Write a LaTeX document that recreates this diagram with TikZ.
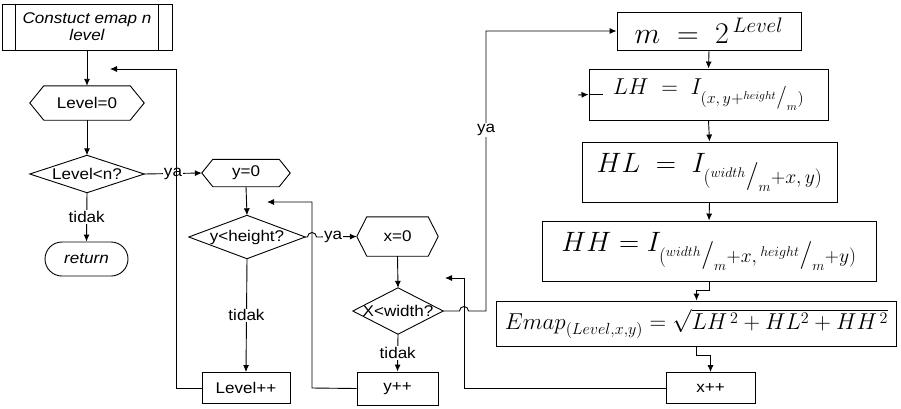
\RequirePackage{fix-cm}
\documentclass[tikz,border=0pt]{standalone}
\usepackage{fontspec}
\usetikzlibrary{arrows.meta,calc}
\newfontfamily\arial[FakeStretch=1.1]{Liberation Sans}
\newcommand{\sfr}[2]{{}^{#1}\big/_{#2}}
\newcommand{\hexa}[2]{\draw[ln] ([xshift=#2pt]#1.north west) -- ([xshift=-#2pt]#1.north east) -- (#1.east) -- ([xshift=-#2pt]#1.south east) -- ([xshift=#2pt]#1.south west) -- (#1.west) -- cycle;}
\newcommand{\diam}[1]{\draw[ln] (#1.north) -- (#1.east) -- (#1.south) -- (#1.west) -- cycle;}
\begin{document}
\begin{tikzpicture}[x=1pt,y=-1pt,
  every node/.style={font=\arial\fontsize{15.5}{17}\selectfont},
  ln/.style={line width=0.9pt},
  arr/.style={ln,-{Latex[length=7pt,width=6pt]}},
  shp/.style={rectangle,inner sep=0pt,align=center},
  boxs/.style={shp,draw,ln},
  lab/.style={fill=white,inner sep=1pt}]
\useasboundingbox (0,0) rectangle (901,408);
% left column
\node[boxs,minimum width=170pt,minimum height=46pt,font=\arial\itshape\fontsize{15.5}{17}\selectfont] (start) at (87,27) {Constuct emap n\\level};
\draw[ln] ([xshift=14pt]start.north west) -- ([xshift=14pt]start.south west);
\draw[ln] ([xshift=-14pt]start.north east) -- ([xshift=-14pt]start.south east);
\node[shp,minimum width=114pt,minimum height=34pt] (lvl0) at (87,103) {Level=0};
\hexa{lvl0}{14}
\node[shp,minimum width=114pt,minimum height=37pt] (lvln) at (87,174) {Level<n?};
\diam{lvln}
\node[boxs,rounded corners=17pt,minimum width=83pt,minimum height=34pt,font=\arial\itshape\fontsize{15.5}{17}\selectfont] (ret) at (86.5,259) {return};
% second column
\node[shp,minimum width=88pt,minimum height=27pt] (y0) at (246,173) {y=0};
\hexa{y0}{11}
\node[shp,minimum width=116pt,minimum height=43pt] (yh) at (247,237) {y<height?};
\diam{yh}
\node[boxs,minimum width=88pt,minimum height=31pt] (lvlpp) at (246,388) {Level++};
% third column
\node[shp,minimum width=81pt,minimum height=39pt] (x0) at (397.5,236.5) {x=0};
\hexa{x0}{10}
\node[shp,minimum width=90pt,minimum height=46pt] (xw) at (398,311) {X<width?};
\diam{xw}
\node[boxs,minimum width=81pt,minimum height=33pt] (ypp) at (397.5,388.5) {y++};
% right column
\node[boxs,minimum width=184pt,minimum height=38pt,font=\fontsize{30}{32}\selectfont] (m) at (709,31) {$m\;=\;2^{\,Level}$};
\node[boxs,minimum width=239pt,minimum height=51pt,font=\fontsize{23}{26}\selectfont] (LH) at (708.5,94.5) {$LH\;=\;I_{(x,\,y+\sfr{height}{m})}$};
\node[boxs,minimum width=255pt,minimum height=60pt,font=\fontsize{28}{32}\selectfont] (HL) at (709.5,172) {$HL\;=\;I_{(\sfr{width}{m}+x,\,y)}$};
\node[boxs,minimum width=334pt,minimum height=60pt,font=\fontsize{28}{32}\selectfont] (HH) at (709,251) {$HH=I_{(\sfr{width}{m}+x,\,\sfr{height}{m}+y)}$};
\node[boxs,minimum width=400pt,minimum height=45pt,font=\fontsize{23}{26}\selectfont] (Em) at (696.5,323.5) {$Emap_{(Level,x,y)}=\sqrt{LH^{\,2}+HL^{2}+HH^{\,2}}$};
\node[boxs,minimum width=89pt,minimum height=31pt] (xpp) at (710.5,388) {x++};
% connectors
\draw[arr] (start.south) -- (lvl0.north);
\draw[arr] (lvl0.south) -- (lvln.north);
\draw[arr] (lvln.east) -- node[lab]{ya} (y0.west);
\draw[arr] (lvln.south) -- node[lab]{tidak} (ret.north);
\draw[arr] (y0.south) -- (yh.north);
\draw[arr] (yh.east) -- (307.5,237) arc (180:360:4.5) -- (x0.west);
\node[lab] (ya2) at (333,237) {ya};
\draw[arr] (yh.south) -- node[lab,pos=0.5]{tidak} (lvlpp.north);
\draw[arr] (x0.south) -- (xw.north);
\draw[arr] (xw.south) -- node[lab]{tidak} (ypp.north);
\draw[arr] (xw.east) -- (459.5,311) arc (180:360:4.5) -- (486,311) -- (486,31) -- (m.west);
\node[lab] (ya3) at (486,130) {ya};
\draw[arr] (m.south) -- (LH.north);
\draw[arr] (LH.south) -- (HL.north);
\draw[arr] (HL.south) -- (HH.north);
\draw[arr] (HH.south) -- ++(0,9) -| (Em.north);
\draw[arr] (Em.south) -- ++(0,9) -| (xpp.north);
\coordinate (c1) at (110,69);
\coordinate (c2) at (267,202);
\coordinate (c3) at (445,278);
\draw[arr] (lvlpp.west) -- (176,388) -- (176,69) -- (c1);
\draw[arr] (ypp.west) -- (312,388) -- (312,202) -- (c2);
\draw[arr] (xpp.west) -- (464,388) -- (464,278) -- (c3);
\coordinate (c4) at (578,95);
\draw[arr] (c4) -- (LH.west);
\draw[ln] (LH.west) -- ++(14,0);
\end{tikzpicture}
\end{document}
